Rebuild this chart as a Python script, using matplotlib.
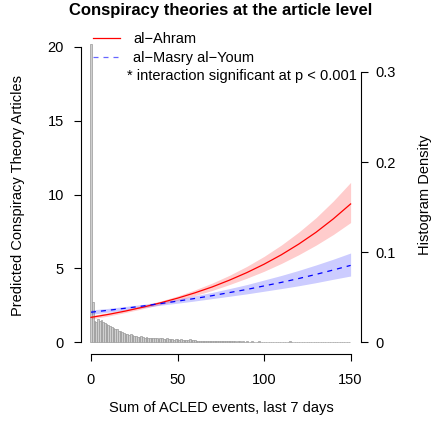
import numpy as np
import matplotlib
matplotlib.use("Agg")
import matplotlib.pyplot as plt
from matplotlib.lines import Line2D

plt.rcParams['font.family'] = ['Liberation Sans', 'DejaVu Sans']

# histogram of ACLED event sums (density, bin width 1, bins centred on 0..149)
hist_x = np.arange(0, 150)
hist_d = [0.331, 0.044, 0.023, 0.022, 0.026, 0.023, 0.025, 0.022, 0.021, 0.020,
          0.019, 0.018, 0.017, 0.016, 0.015, 0.014, 0.012, 0.012, 0.011, 0.010,
          0.009, 0.009, 0.008, 0.009, 0.008, 0.007, 0.007, 0.006, 0.006, 0.007,
          0.006, 0.005, 0.006, 0.005, 0.005, 0.004, 0.005, 0.004, 0.004, 0.003,
          0.004, 0.004, 0.003, 0.003, 0.004, 0.003, 0.003, 0.003, 0.002, 0.003,
          0.003, 0.002, 0.003, 0.002, 0.002, 0.002, 0.002, 0.003, 0.002, 0.002,
          0.002, 0.0015, 0.0015, 0.001, 0.0015, 0.001, 0.001, 0.0015, 0.001, 0.001,
          0.001, 0.001, 0.0015, 0.001, 0.001, 0.001, 0.0008, 0.001, 0.001, 0.0008,
          0.0008, 0.001, 0.0008, 0.0008, 0.0005, 0.0008, 0.0008, 0.0005, 0.0008, 0.0005,
          0.0008, 0.0005, 0.0005, 0.0008, 0.0005, 0.0005, 0.0005, 0.0008, 0.0005, 0.0005,
          0.0005, 0.0005, 0.0005, 0.0003, 0.0005, 0.0005, 0.0005, 0.0003, 0.0005, 0.0005,
          0.0003, 0.0005, 0.0005, 0.0003, 0.0005, 0.0012, 0.0005, 0.0003, 0.0005, 0.0003,
          0.0005, 0.0003, 0.0005, 0.0003, 0.0003, 0.0005, 0.0003, 0.0003, 0.0005, 0.0003,
          0.0003, 0.0005, 0.0003, 0.0003, 0.0003, 0.0005, 0.0003, 0.0003, 0.0003, 0.0003,
          0.0003, 0.0005, 0.0003, 0.0003, 0.0003, 0.0003, 0.0003, 0.0003, 0.0003, 0.0003]

# predicted counts with 95% bands
events = [0, 10, 20, 30, 40, 50, 60, 70, 80, 90, 100, 110, 120, 130, 140, 150]
ahram = [1.68, 1.88, 2.11, 2.37, 2.66, 2.98, 3.34, 3.74, 4.20, 4.71, 5.28, 5.92, 6.64, 7.44, 8.35, 9.36]
ahram_lo = [1.57, 1.77, 2.01, 2.27, 2.54, 2.83, 3.15, 3.50, 3.90, 4.33, 4.80, 5.33, 5.92, 6.57, 7.29, 8.10]
ahram_hi = [1.80, 2.00, 2.22, 2.48, 2.78, 3.13, 3.54, 4.00, 4.53, 5.13, 5.81, 6.58, 7.45, 8.43, 9.56, 10.82]
masry = [2.03, 2.16, 2.30, 2.45, 2.61, 2.78, 2.96, 3.15, 3.36, 3.57, 3.81, 4.05, 4.31, 4.59, 4.89, 5.20]
masry_lo = [1.89, 2.03, 2.19, 2.34, 2.50, 2.64, 2.79, 2.95, 3.11, 3.27, 3.45, 3.63, 3.82, 4.03, 4.26, 4.48]
masry_hi = [2.18, 2.29, 2.42, 2.56, 2.73, 2.92, 3.14, 3.37, 3.63, 3.90, 4.21, 4.52, 4.86, 5.23, 5.62, 6.04]

W, H = 435, 429
fs = 10.5
fig = plt.figure(figsize=(W / 100, H / 100), dpi=100)
ax = fig.add_axes([80.6 / W, 1 - 354 / H, (361 - 80.6) / W, (354 - 35) / H])
ax2 = ax.twinx()
ax.set_zorder(ax2.get_zorder() + 1)
ax.patch.set_visible(False)

# histogram on the right (density) axis
ax2.bar(hist_x, hist_d, width=1, align='center', color='#cfcfcf', edgecolor='#999999', linewidth=0.5)
ax2.set_ylim(-0.0133, 0.3411)
ax2.set_yticks([0, 0.1, 0.2, 0.3])
ax2.set_yticklabels(['0', '0.1', '0.2', '0.3'])

# curves on the left axis
ax.fill_between(events, ahram_lo, ahram_hi, color=(1, 0, 0, 0.2), linewidth=0)
ax.fill_between(events, masry_lo, masry_hi, color=(0, 0, 1, 0.2), linewidth=0)
ax.plot(events, ahram, color='red', lw=0.9)
ax.plot(events, masry, color='blue', lw=0.9, dashes=(4, 4))
ax.set_xlim(-6, 156)
ax.set_ylim(-0.8, 20.8)
ax2.set_xlim(-6, 156)
ax.set_xticks([0, 50, 100, 150])
ax.set_yticks([0, 5, 10, 15, 20])

for s in ['top', 'right']:
    ax.spines[s].set_visible(False)
for s in ['top', 'left', 'bottom']:
    ax2.spines[s].set_visible(False)
ax.spines['left'].set_bounds(0, 20)
ax.spines['bottom'].set_bounds(0, 150)
ax2.spines['right'].set_bounds(0, 0.3)
for sp in [ax.spines['left'], ax.spines['bottom'], ax2.spines['right']]:
    sp.set_linewidth(0.8)

ax.tick_params(axis='y', direction='out', length=5, width=0.8, labelsize=fs, pad=7)
ax.tick_params(axis='x', direction='out', length=5, width=0.8, labelsize=fs, pad=9)
ax2.tick_params(axis='y', direction='out', length=5, width=0.8, labelsize=fs, pad=5)

fig.text(221 / W, 1 - 10 / H, 'Conspiracy theories at the article level', ha='center', va='center',
         fontsize=12, fontweight='bold')
fig.text(221 / W, 1 - 408 / H, 'Sum of ACLED events, last 7 days', ha='center', va='center', fontsize=fs)
fig.text(18 / W, 1 - 195 / H, 'Predicted Conspiracy Theory Articles', ha='center', va='center',
         rotation=90, fontsize=fs)
fig.text(425 / W, 1 - 195 / H, 'Histogram Density', ha='center', va='center', rotation=90, fontsize=fs)

handles = [Line2D([], [], color='red', lw=0.9),
           Line2D([], [], color='blue', lw=0.9, dashes=(4, 4), alpha=0.6)]
ax.legend(handles, ['al\u2212Ahram', 'al\u2212Masry al\u2212Youm'], loc='upper left',
          bbox_to_anchor=(86 / W, 1 - 25 / H), bbox_transform=fig.transFigure,
          frameon=False, fontsize=fs, handlelength=1.85, handletextpad=0.87,
          borderpad=0, labelspacing=0.35)
fig.text(127 / W, 1 - 76 / H, '* interaction significant at p < 0.001', ha='left', va='center', fontsize=fs)

fig.savefig('out.png', dpi=100)
